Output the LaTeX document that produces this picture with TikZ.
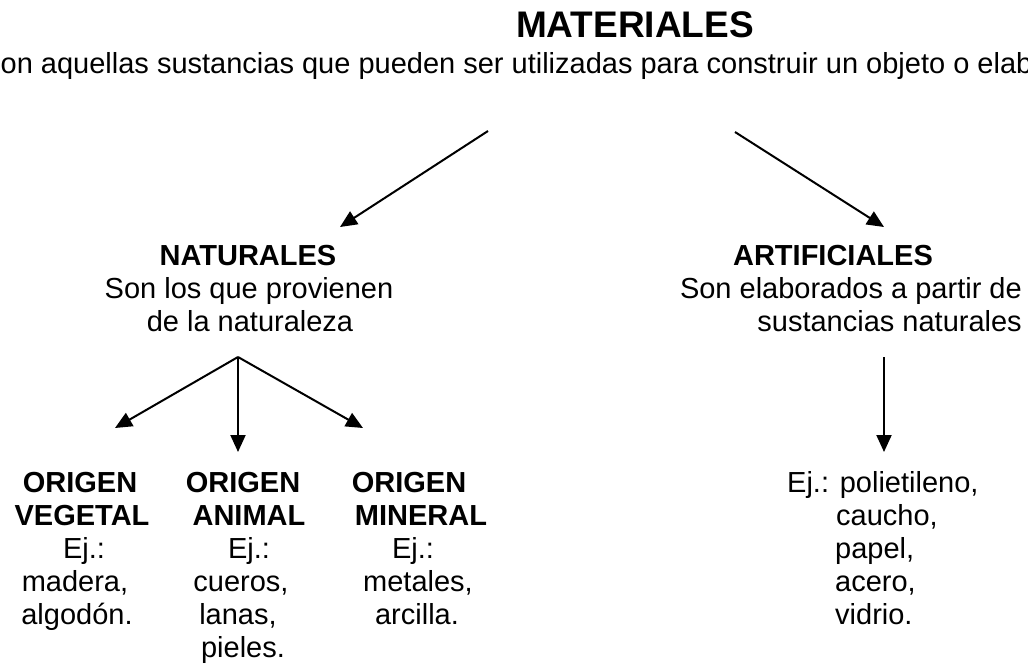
\documentclass[tikz,border=0pt]{standalone}
\usepackage{fontspec}
\setmainfont{Liberation Sans}
\usetikzlibrary{arrows.meta}
\begin{document}
\begin{tikzpicture}[x=1pt,y=-1pt,
  txt/.style={inner sep=0pt, anchor=base, font=\fontsize{29}{33}\selectfont},
  bld/.style={inner sep=0pt, anchor=base, font=\fontsize{29}{33}\selectfont\bfseries},
  arr/.style={line width=2pt, -{Triangle[length=17pt,width=15pt]}}]
\clip (0,0) rectangle (1028,664);
\fill[white] (0,0) rectangle (1028,664);
% title and definition
\node[inner sep=0pt, anchor=base, font=\fontsize{37}{40}\selectfont\bfseries] (title) at (635,37) {MATERIALES};
\node[txt, anchor=base west] (def) at (0.5,73) {on aquellas sustancias que pueden ser utilizadas para construir un objeto o elab};
% top arrows
\coordinate (aL0) at (488,131); \coordinate (aL1) at (340,227);
\coordinate (aR0) at (735,132); \coordinate (aR1) at (884,227);
\draw[arr] (aL0) -- (aL1);
\draw[arr] (aR0) -- (aR1);
% naturales
\node[bld] (nat) at (248,265) {NATURALES};
\node[txt] (nat1) at (249,298) {Son los que provienen};
\node[txt] (nat2) at (250,331) {de la naturaleza};
% artificiales
\node[bld] (art) at (833,265) {ARTIFICIALES};
\node[txt, anchor=base east] (art1) at (1022,298) {Son elaborados a partir de};
\node[txt, anchor=base east] (art2) at (1022,331) {sustancias naturales};
% branching arrows
\coordinate (apex) at (238,357);
\coordinate (tV) at (115,428); \coordinate (tA) at (238,452); \coordinate (tM) at (363,428);
\draw[arr] (apex) -- (tV);
\draw[arr] (apex) -- (tA);
\draw[arr] (apex) -- (tM);
\coordinate (r0) at (884,357); \coordinate (r1) at (884,452);
\draw[arr] (r0) -- (r1);
% origen vegetal
\node[bld] (v1) at (80,492) {ORIGEN};
\node[bld] (v2) at (82,525) {VEGETAL};
\node[txt] (v3) at (84,558) {Ej.:};
\node[txt] (v4) at (75,591) {madera,};
\node[txt] (v5) at (77,624) {algodón.};
% origen animal
\node[bld] (a1) at (243,492) {ORIGEN};
\node[bld] (a2) at (249,525) {ANIMAL};
\node[txt] (a3) at (249,558) {Ej.:};
\node[txt] (a4) at (241,591) {cueros,};
\node[txt] (a5) at (238,624) {lanas,};
\node[txt] (a6) at (243,657) {pieles.};
% origen mineral
\node[bld] (m1) at (409,492) {ORIGEN};
\node[bld] (m2) at (421,525) {MINERAL};
\node[txt] (m3) at (413,558) {Ej.:};
\node[txt] (m4) at (418,591) {metales,};
\node[txt] (m5) at (417,624) {arcilla.};
% artificial examples
\node[txt, anchor=base west] (e1) at (787,492) {Ej.: polietileno,};
\node[txt, anchor=base west] (e2) at (836,525) {caucho,};
\node[txt, anchor=base west] (e3) at (835,558) {papel,};
\node[txt, anchor=base west] (e4) at (835,591) {acero,};
\node[txt, anchor=base west] (e5) at (835,624) {vidrio.};
\end{tikzpicture}
\end{document}
